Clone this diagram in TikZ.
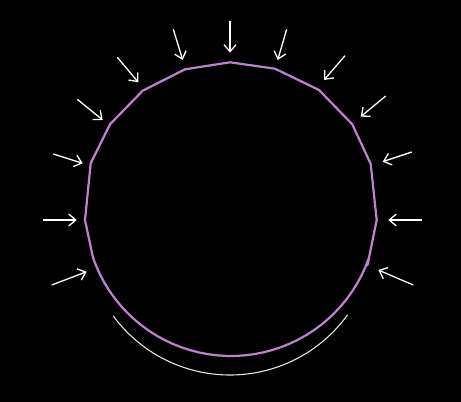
\documentclass[tikz,border=0pt]{standalone}
\usetikzlibrary{arrows.meta}
\definecolor{ringcol}{RGB}{188,132,206}
\definecolor{arccol}{RGB}{228,228,218}
\tikzset{
  pusharrow/.style={draw=white, line width=1.3pt,
    -{Straight Barb[length=7pt,width=12pt,line width=1.3pt]}},
  ringline/.style={draw=ringcol, line width=2.2pt, line join=round},
  bracearc/.style={draw=arccol, line width=1.1pt}
}
\begin{document}
\begin{tikzpicture}[x=1pt,y=-1pt]
\fill[black] (0,0) rectangle (461,402);
\useasboundingbox (0,0) rectangle (461,402);
% ring: angular upper half, rounder lower half
\draw[ringline] (85,220) -- (90.7,163.3) -- (110,124.3) -- (142.7,90.7) -- (185,69.3)
  -- (230,62.3) -- (275,68.7) -- (319,90) -- (352.3,124.3) -- (370.7,164)
  -- (376.7,220) -- (367.5,265)
  -- plot[domain=19:161, samples=40] ({231+146*cos(\x)},{210+146*sin(\x)})
  -- cycle;
% arrows
\foreach \i/\sx/\sy/\ex/\ey in {
  1/230/20.7/230/52.7,
  2/173.3/29.3/182.7/60,
  3/286.7/29.3/277.7/60,
  4/117.3/57.3/138.3/82.3,
  5/345/55.7/324/80,
  6/77.3/99.3/102.7/120,
  7/385.7/96/360.7/116.7,
  8/53.3/154/82.7/163.3,
  9/411.7/152/382.7/161.7,
  10/43.3/220/76.7/220,
  11/421.7/220/388.3/220,
  12/51.7/285/86.7/271.7,
  13/413.3/285/378.3/270}{
  \coordinate (s\i) at (\sx,\sy);
  \coordinate (e\i) at (\ex,\ey);
  \draw[pusharrow] (s\i) -- (e\i);
}
% bottom arc
\draw[bracearc] plot[domain=143.6:35.8, samples=80] ({230+145*cos(\x)},{230+145*sin(\x)});
\end{tikzpicture}
\end{document}
